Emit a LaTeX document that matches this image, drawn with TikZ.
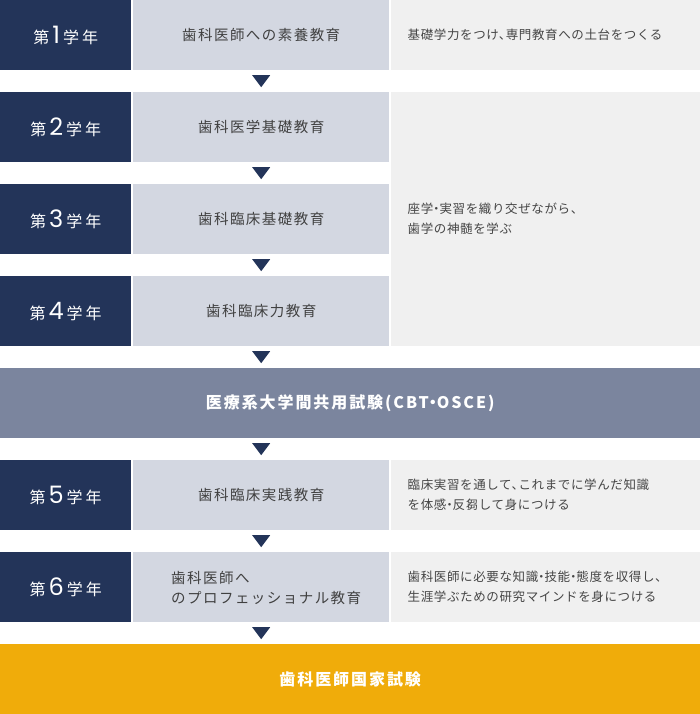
\documentclass[tikz,border=0pt]{standalone}
\usepackage{fontspec}
\setmainfont{Noto Sans CJK JP}
\newfontfamily\midfont[LetterSpace=10]{Noto Sans CJK JP}
\newfontfamily\notefont[LetterSpace=5]{Noto Sans CJK JP}
\newfontfamily\yearfont{Noto Sans CJK JP}
\newfontfamily\barfont[LetterSpace=12]{Noto Sans CJK JP}
\newfontfamily\digitfont{Poppins}
\usetikzlibrary{calc}
\definecolor{navy}{HTML}{233459}
\definecolor{coursecol}{HTML}{D3D7E1}
\definecolor{notecol}{HTML}{F0F0F0}
\definecolor{examcol}{HTML}{7B859E}
\definecolor{goldcol}{HTML}{F0AC0A}
\definecolor{txtgray}{HTML}{404040}
\definecolor{notegray}{HTML}{454545}
\tikzset{
  cell/.style={inner sep=0pt, anchor=north west, minimum height=70pt},
  yearbox/.style={cell, fill=navy, minimum width=131pt, text=white,
    font=\yearfont\fontsize{16}{18}\selectfont},
  coursebox/.style={cell, fill=coursecol, minimum width=256pt, text=txtgray,
    font=\midfont\fontsize{14.5}{19.5}\selectfont},
  coursetext/.style={inner sep=0pt, anchor=west, align=left, text=txtgray,
    font=\midfont\fontsize{14.5}{19.5}\selectfont},
  notebox/.style={cell, fill=notecol, text width=276pt, inner xsep=16.5pt, align=left,
    text=notegray, font=\notefont\fontsize{12.5}{20}\selectfont},
  barbox/.style={cell, minimum width=700pt, text=white,
    font=\barfont\bfseries\fontsize{16}{20}\selectfont},
  tri/.style={fill=navy}
}
\newcommand\yr[1]{第\hspace{3pt}{\digitfont\fontsize{24}{24}\selectfont #1}\hspace{3pt}学\hspace{3pt}年}
\newcommand\tn{、\kern-.45em}
\newcommand\nk{\kern-.25em・\kern-.25em}
\newcommand\conn[2]{\fill[tri] ($($(#1)!0.5!(#2)$)+(-9,-6)$) -- ++(18,0) -- ++(-9,12) -- cycle;}
\begin{document}
\begin{tikzpicture}[x=1pt,y=-1pt]
\useasboundingbox[fill=white] (0,0) rectangle (700,714);
% row 1
\node[yearbox] (y1) at (0,0) {\yr{1}};
\node[coursebox] (c1) at (133,0) {歯科医師への素養教育};
\node[notebox] (n1) at (391,0) {基礎学力をつけ\tn 専門教育への土台をつくる};
% rows 2-4
\node[yearbox] (y2) at (0,92) {\yr{2}};
\node[coursebox] (c2) at (133,92) {歯科医学基礎教育};
\node[yearbox] (y3) at (0,184) {\yr{3}};
\node[coursebox] (c3) at (133,184) {歯科臨床基礎教育};
\node[yearbox] (y4) at (0,276) {\yr{4}};
\node[coursebox] (c4) at (133,276) {歯科臨床力教育};
\node[notebox, minimum height=254pt] (n2) at (391,92) {座学\nk 実習を織り交ぜながら\tn\\歯学の神髄を学ぶ};
% exam bar
\node[barbox, fill=examcol] (exam) at (0,368) {医療系大学間共用試験(CBT\nk OSCE)};
% row 5
\node[yearbox] (y5) at (0,460) {\yr{5}};
\node[coursebox] (c5) at (133,460) {歯科臨床実践教育};
\node[notebox] (n5) at (391,460) {臨床実習を通して\tn これまでに学んだ知識\\を体感\nk 反芻して身につける};
% row 6
\node[yearbox] (y6) at (0,552) {\yr{6}};
\node[coursebox] (c6) at (133,552) {};
\node[coursetext] (c6t) at ($(c6.west)+(38,1)$) {歯科医師へ\\のプロフェッショナル教育};
\node[notebox] (n6) at (391,552) {歯科医師に必要な知識\nk 技能\nk 態度を収得し\tn\\生涯学ぶための研究マインドを身につける};
% final bar
\node[barbox, fill=goldcol] (gold) at (0,644) {歯科医師国家試験};
% connectors
\conn{c1.south}{c2.north}
\conn{c2.south}{c3.north}
\conn{c3.south}{c4.north}
\conn{c4.south}{c4.south|-exam.north}
\conn{c5.north|-exam.south}{c5.north}
\conn{c5.south}{c6.north}
\conn{c6.south}{c6.south|-gold.north}
\end{tikzpicture}
\end{document}
